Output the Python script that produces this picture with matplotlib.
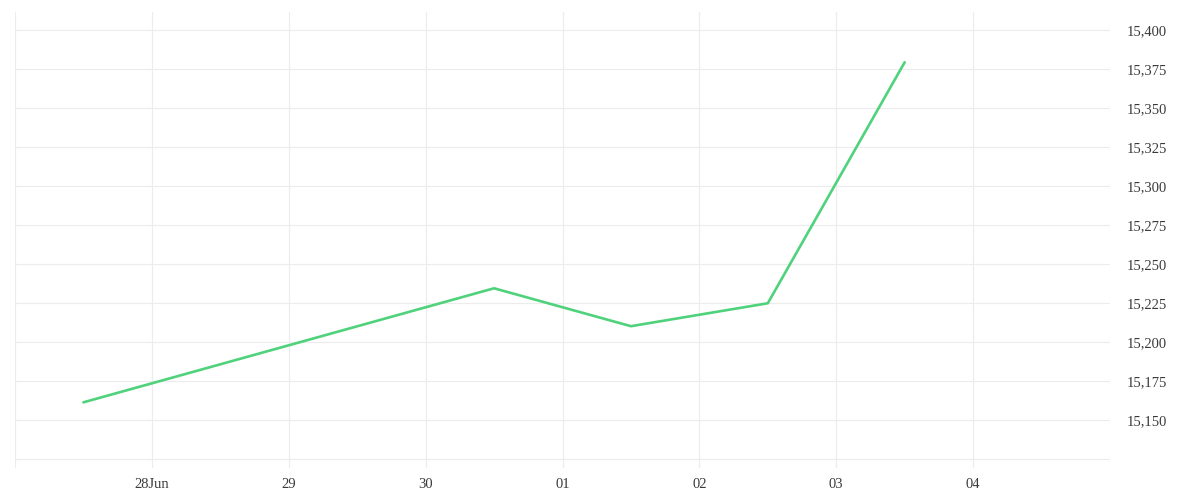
import matplotlib
matplotlib.use("Agg")
import matplotlib.pyplot as plt
import matplotlib.dates as mdates
from datetime import datetime

# Data
dates = ["2025-06-27 12:00", "2025-06-30 12:00", "2025-07-01 12:00",
         "2025-07-02 12:00", "2025-07-03 12:00"]
values = [15161.5, 15234.6, 15210.3, 15225.0, 15379.5]

x_tick_dates = ["2025-06-27", "2025-06-28", "2025-06-29", "2025-06-30", "2025-07-01",
                "2025-07-02", "2025-07-03", "2025-07-04", "2025-07-05"]
x_tick_labels = ["", "28Jun", "29", "30", "01", "02", "03", "04", ""]
y_ticks = [15125, 15150, 15175, 15200, 15225, 15250, 15275, 15300, 15325, 15350, 15375, 15400]
y_tick_labels = ["", "15,150", "15,175", "15,200", "15,225", "15,250", "15,275",
                 "15,300", "15,325", "15,350", "15,375", "15,400"]

plt.rcParams['font.family'] = ['Liberation Serif', 'DejaVu Serif']

fig = plt.figure(figsize=(12, 5), dpi=100)
ax = fig.add_axes([15/1200, 1-468/500, (1110-15)/1200, (468-12)/500])

xd = [datetime.strptime(d, "%Y-%m-%d %H:%M") for d in dates]
ax.plot(xd, values, color="#4fd27b", linewidth=1.9, solid_capstyle="round")

xt = [datetime.strptime(d, "%Y-%m-%d") for d in x_tick_dates]
ax.set_xlim(xt[0], xt[-1])
ax.set_xticks(xt)
ax.set_xticklabels(x_tick_labels)
ax.set_ylim(15119.4, 15411.7)
ax.set_yticks(y_ticks)
ax.set_yticklabels(y_tick_labels)
ax.yaxis.tick_right()

for s in ax.spines.values():
    s.set_visible(False)
ax.grid(True, color="#ececec", linewidth=0.8)
ax.set_axisbelow(True)
ax.tick_params(axis="both", length=0, labelsize=10.5, colors="#3a3a3a")
ax.tick_params(axis="x", pad=7.5)
ax.tick_params(axis="y", pad=12.2)
for lab in ax.get_yticklabels():
    lab.set_horizontalalignment("left")

fig.savefig("out.png", dpi=100, facecolor="white")
